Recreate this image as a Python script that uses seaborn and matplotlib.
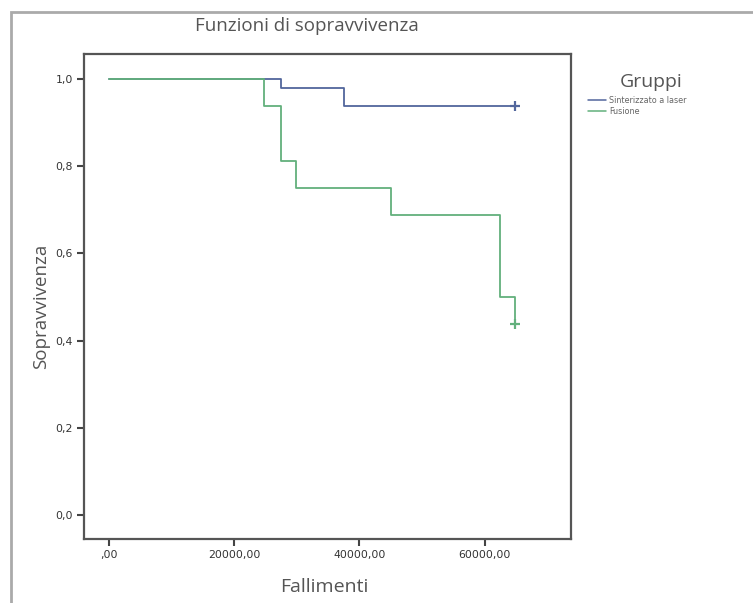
import matplotlib
matplotlib.use("Agg")
import matplotlib.pyplot as plt
import seaborn as sns
import pandas as pd
from matplotlib.patches import Rectangle
from matplotlib.lines import Line2D

# survival curves
groups = ['Sinterizzato a laser', 'Fusione']
laser_time = [0, 27400, 37500, 64900]
laser_surv = [1.0, 0.979, 0.9375, 0.9375]
fusione_time = [0, 24800, 27400, 29900, 45000, 62400, 64900]
fusione_surv = [1.0, 0.9375, 0.8125, 0.75, 0.6875, 0.5, 0.4375]
censor_time = [64900, 64900]
censor_surv = [0.9375, 0.4375]

x_ticks = [0, 20000, 40000, 60000]
x_labels = [',00', '20000,00', '40000,00', '60000,00']
y_ticks = [0.0, 0.2, 0.4, 0.6, 0.8, 1.0]
y_labels = ['0,0', '0,2', '0,4', '0,6', '0,8', '1,0']

colors = {'Sinterizzato a laser': '#52669c', 'Fusione': '#62b07c'}

df = pd.concat([
    pd.DataFrame({'tempo': laser_time, 'surv': laser_surv, 'gruppo': groups[0]}),
    pd.DataFrame({'tempo': fusione_time, 'surv': fusione_surv, 'gruppo': groups[1]}),
])
df_cens = pd.DataFrame({'tempo': censor_time, 'surv': censor_surv, 'gruppo': groups})

sns.set_style('white')
plt.rcParams['font.family'] = ['Open Sans', 'DejaVu Sans']

fig = plt.figure(figsize=(7.53, 6.03), dpi=100)
ax = fig.add_axes([84 / 753, 64 / 603, 486.5 / 753, 485 / 603])

sns.lineplot(data=df, x='tempo', y='surv', hue='gruppo', palette=colors,
             estimator=None, drawstyle='steps-post', linewidth=1.3,
             legend=False, ax=ax)
sns.scatterplot(data=df_cens, x='tempo', y='surv', hue='gruppo', palette=colors,
                marker='+', s=50, linewidth=1.6, legend=False, ax=ax, zorder=5)

ax.set_xlim(-4000, 73700)
ax.set_ylim(-0.055, 1.057)
ax.set_xticks(x_ticks)
ax.set_xticklabels(x_labels, fontsize=7.8, color='#333333', family=['DejaVu Sans'])
ax.set_yticks(y_ticks)
ax.set_yticklabels(y_labels, fontsize=7.8, color='#333333', family=['DejaVu Sans'])
ax.tick_params(axis='both', direction='out', length=5, width=1.5, color='#444444',
               bottom=True, left=True, pad=3)
for s in ax.spines.values():
    s.set_color('#555555')
    s.set_linewidth(1.6)

ax.set_xlabel('')
ax.set_ylabel('')
fig.text(324 / 753, 1 - 587 / 603, 'Fallimenti', ha='center', va='center',
         fontsize=14, color='#555555')
fig.text(41 / 753, 1 - 306 / 603, 'Sopravvivenza', ha='center', va='center',
         rotation=90, fontsize=13.5, color='#555555')
fig.text(307 / 753, 1 - 26 / 603, 'Funzioni di sopravvivenza', ha='center',
         va='center', fontsize=13.5, color='#555555')

# outer frame around the chart
fig.patches.append(Rectangle((11 / 753, -0.1), 1.2, 1 - 12 / 603 + 0.1,
                             transform=fig.transFigure, fill=False,
                             edgecolor='#aaaaaa', linewidth=2))

# legend
fig.text(651 / 753, 1 - 82 / 603, 'Gruppi', ha='center', va='center',
         fontsize=14, color='#555555')
handles = [Line2D([], [], color=colors[g], linewidth=1.1) for g in groups]
leg = fig.legend(handles, groups, loc='upper left',
                 bbox_to_anchor=(588 / 753, 1 - 96 / 603), frameon=False,
                 prop={'family': ['DejaVu Sans'], 'size': 5.8},
                 handlelength=2.2, handletextpad=0.4,
                 labelspacing=0.25, borderpad=0, borderaxespad=0)
for t in leg.get_texts():
    t.set_color('#666666')

fig.savefig('out.png', dpi=100)
